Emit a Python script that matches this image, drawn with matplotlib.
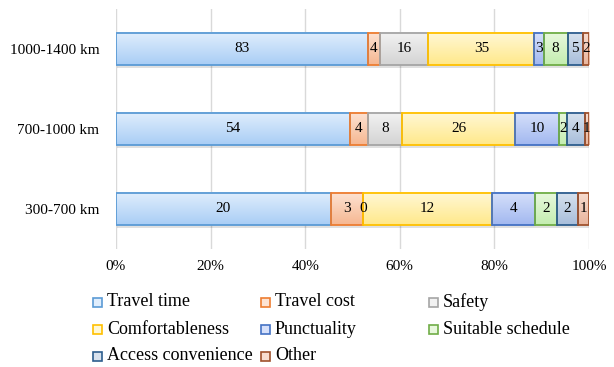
import numpy as np
import matplotlib
matplotlib.use("Agg")
import matplotlib.pyplot as plt
from matplotlib.patches import Rectangle
from matplotlib.colors import LinearSegmentedColormap

plt.rcParams['font.family'] = ['Liberation Serif', 'DejaVu Serif']

categories = ["300-700 km", "700-1000 km", "1000-1400 km"]
series = ["Travel time", "Travel cost", "Safety", "Comfortableness",
          "Punctuality", "Suitable schedule", "Access convenience", "Other"]
travel_time = [20, 54, 83]
travel_cost = [3, 4, 4]
safety = [0, 8, 16]
comfort = [12, 26, 35]
punctuality = [4, 10, 3]
schedule = [2, 2, 8]
access = [2, 4, 5]
other = [1, 1, 2]
values = [travel_time, travel_cost, safety, comfort, punctuality, schedule, access, other]
xticks = [0, 20, 40, 60, 80, 100]

edge_colors = ["#5B9BD5", "#ED7D31", "#A5A5A5", "#FFC000",
               "#4472C4", "#70AD47", "#2E5E8E", "#A0522D"]
top_colors = ["#E0EEFD", "#FDE3D3", "#F2F2F2", "#FFF8D6",
              "#D6E0FA", "#E8F8DD", "#D8E2EE", "#F8DDD0"]
bot_colors = ["#A9CDF5", "#F6B791", "#D4D4D4", "#FFE88A",
              "#A2B8F0", "#C4EDB0", "#A8BEDB", "#E8B49C"]

fig = plt.figure(figsize=(6.14, 3.67), dpi=100)
ax = fig.add_axes([116/614, 1-249/367, 473/614, 240/367])

data = np.array(values, dtype=float)
totals = data.sum(axis=0)
pct = data / totals * 100
y = np.arange(len(categories))
h = 0.41

left = np.zeros(len(categories))
for i, s in enumerate(series):
    w = pct[i]
    cmap = LinearSegmentedColormap.from_list("g%d" % i, [top_colors[i], bot_colors[i]])
    grad = np.linspace(0, 1, 64).reshape(-1, 1)
    for j in range(len(categories)):
        if w[j] > 0:
            ax.add_patch(Rectangle((left[j] + 0.15, y[j] - h/2 - 0.035), w[j], h,
                                   facecolor="#000000", alpha=0.12, edgecolor="none", zorder=2))
            ax.imshow(grad, cmap=cmap, aspect='auto', interpolation='bilinear',
                      extent=(left[j], left[j] + w[j], y[j] - h/2, y[j] + h/2), zorder=3)
            ax.add_patch(Rectangle((left[j], y[j] - h/2), w[j], h, facecolor="none",
                                   edgecolor=edge_colors[i], linewidth=1.3, zorder=4))
        ax.text(left[j] + w[j]/2, y[j], "%d" % data[i][j], ha='center', va='center',
                fontsize=11, zorder=5, color="#000000")
    left += w

ax.set_xlim(0, 100)
ax.set_ylim(-0.5, len(categories) - 0.5)
ax.set_xticks(xticks)
ax.set_xticklabels(["%d%%" % t for t in xticks], fontsize=11)
ax.set_yticks(y)
ax.set_yticklabels(categories, fontsize=11)
ax.tick_params(axis='both', length=0, labelcolor="#000000")
ax.tick_params(axis='x', pad=8)
ax.tick_params(axis='y', pad=12)
for sp in ax.spines.values():
    sp.set_visible(False)
ax.grid(axis='x', color="#D9D9D9", linewidth=1.0, zorder=0)
ax.set_axisbelow(True)

# legend (row-major, equal-width columns)
col_x = [93, 261, 429]
row_y = [302, 329, 356]
for k, s in enumerate(series):
    r, c = divmod(k, 3)
    x0 = col_x[c] / 614
    y0 = 1 - row_y[r] / 367
    fig.patches.append(Rectangle((x0, y0 - 4.5/367), 9/614, 9/367, transform=fig.transFigure,
                                 facecolor=top_colors[k], edgecolor=edge_colors[k], linewidth=1.2))
    fig.text(x0 + 14/614, y0, s, fontsize=13, va='center', ha='left', color="#000000")

fig.savefig("out.png", dpi=100)
